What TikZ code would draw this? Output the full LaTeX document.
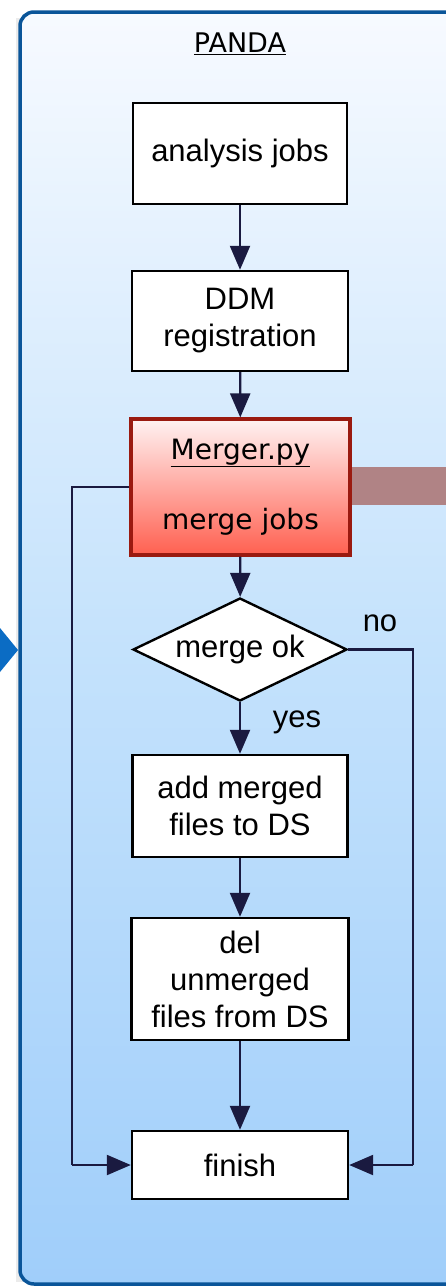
\documentclass[tikz,border=0pt]{standalone}
\usepackage{fontspec}
\setmainfont{Liberation Sans}
\newfontfamily\lucida{DejaVu Sans}
\usetikzlibrary{shapes.geometric,arrows.meta,shadows}
\definecolor{frameblue}{HTML}{0A5599}
\definecolor{arrowblue}{HTML}{0B6CC4}
\definecolor{navy}{HTML}{1A1A40}
\definecolor{redborder}{HTML}{9A1A10}
\definecolor{band}{HTML}{B08385}
\definecolor{bgtop}{HTML}{F7FAFF}
\definecolor{bgmid}{HTML}{C4E2FC}
\definecolor{bgbot}{HTML}{A0CEFA}
\tikzset{
  flowbox/.style={draw=black, line width=2.4pt, fill=white, align=center, inner sep=2pt,
    font=\fontsize{31}{37}\selectfont},
  decide/.style={diamond, draw=black, line width=2.4pt, fill=white, inner sep=0pt,
    shape aspect=2.1, font=\fontsize{31}{37}\selectfont},
  conn/.style={draw=navy, line width=2.2pt, -{Triangle[length=24pt,width=20pt]}},
  plainconn/.style={draw=navy, line width=2.2pt},
  lbl/.style={font=\fontsize{31}{37}\selectfont, inner sep=0pt},
}
\begin{document}
\begin{tikzpicture}[x=1pt,y=-1pt]
\useasboundingbox (0,0) rectangle (446,1286);
% container
\path[fill=gray!40, opacity=0.4] (16,18) rectangle (30,1282);
\shade[top color=bgtop, bottom color=bgbot, middle color=bgmid, rounded corners=14pt]
  (20,12) rectangle (480,1284);
\draw[frameblue, line width=3.5pt, rounded corners=14pt] (20,12) rectangle (480,1284);
% incoming blue arrow
\fill[arrowblue] (0,628) -- (18,650) -- (0,672) -- cycle;
% red band
\fill[band] (350,467) rectangle (446,505);
% title
\node[font=\lucida\fontsize{27}{30}\selectfont, inner sep=0pt] (title) at (240,44) {\underline{PANDA}};
% nodes
\node[flowbox, minimum width=214pt, minimum height=101pt] (analysis) at (240,153.5) {analysis jobs};
\node[flowbox, minimum width=216pt, minimum height=100pt] (ddm) at (240,321) {DDM\\registration};
\node[draw=redborder, line width=3.2pt, top color={rgb,255:red,255;green,242;blue,242},
      bottom color={rgb,255:red,255;green,96;blue,80}, minimum width=219pt, minimum height=136pt,
      align=center, font=\lucida\fontsize{28}{34}\selectfont] (merger) at (240.5,487)
      {\underline{Merger.py}\\[36pt]merge jobs};
\node[decide, minimum width=214pt, minimum height=103pt] (ok) at (240,649.5) {merge ok};
\node[flowbox, minimum width=215pt, minimum height=102pt] (add) at (240,806) {add merged\\files to DS};
\node[flowbox, minimum width=217pt, minimum height=122pt] (del) at (240,979) {del\\unmerged\\files from DS};
\node[flowbox, minimum width=216pt, minimum height=68pt] (finish) at (240,1165) {finish};
% labels
\node[lbl] (yes) at (297,722) {yes};
\node[lbl] (no) at (380,623) {no};
% connectors
\coordinate (lt) at (72,487);
\coordinate (lb) at (72,1165);
\coordinate (rt) at (413,649.5);
\coordinate (rb) at (413,1165);
\draw[conn] (analysis) -- (ddm);
\draw[conn] (ddm) -- (merger);
\draw[conn] (merger) -- (ok);
\draw[conn] (ok) -- (add);
\draw[conn] (add) -- (del);
\draw[conn] (del) -- (finish);
\draw[plainconn] (merger.west) -- (lt) -- (lb);
\draw[conn] (lb) -- (finish.west);
\draw[plainconn] (ok.east) -- (rt) -- (rb);
\draw[conn] (rb) -- (finish.east);
\end{tikzpicture}
\end{document}
